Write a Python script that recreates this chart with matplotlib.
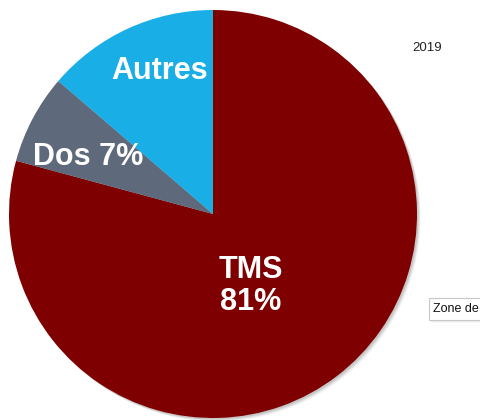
import matplotlib.pyplot as plt
from matplotlib.patches import Circle, FancyBboxPatch

# wedge sizes (labels as printed on the chart)
parts = ["TMS", "Dos", "Autres"]
sizes = [79.2, 7.1, 13.7]
labels = ["TMS\n81%", "Dos 7%", "Autres"]
colors = ["#7f0000", "#5e6a7c", "#19aee6"]
year = "2019"

W, H = 480, 420
fig = plt.figure(figsize=(4.8, 4.2), dpi=100)
ax = fig.add_axes([0, 0, 1, 1])

cx, cy, r = 213, H - 214, 204

# soft drop shadow
for i, a in enumerate([0.10, 0.08, 0.06]):
    ax.add_patch(Circle((cx + 1.5 + i, cy - 1.5 - i), r, color="black", alpha=a, lw=0, zorder=0))

ax.pie(sizes, colors=colors, startangle=90, counterclock=False,
       center=(cx, cy), radius=r, frame=True,
       wedgeprops=dict(linewidth=0))

font = ["Liberation Sans", "DejaVu Sans"]
ax.text(160, H - 71, labels[2], color="white", fontsize=22, fontweight="bold",
        ha="center", va="center", family=font)
ax.text(88, H - 157, labels[1], color="white", fontsize=22, fontweight="bold",
        ha="center", va="center", family=font)
ax.text(251, H - 286, labels[0], color="white", fontsize=22, fontweight="bold",
        ha="center", va="center", family=font, linespacing=1.1)

ax.text(427, H - 48, year, fontsize=9.5, ha="center", va="center", family=font, color="#222222")

# partial "Zone de ..." tooltip box on the right edge
for i, a in enumerate([0.06, 0.04, 0.03]):
    ax.add_patch(FancyBboxPatch((430 + i, H - 321 - i), 60, 22, boxstyle="square,pad=0",
                                fc="black", alpha=a, lw=0, zorder=2))
ax.add_patch(FancyBboxPatch((429, H - 320), 60, 22, boxstyle="square,pad=0",
                            fc="white", ec="#c8c8c8", lw=0.8, zorder=3))
ax.text(433, H - 309, "Zone de", fontsize=9, ha="left", va="center",
        family=font, color="#111111", zorder=4)

ax.set_xlim(0, W)
ax.set_ylim(0, H)
ax.set_aspect("equal")
ax.axis("off")
fig.savefig("out.png", dpi=100)
